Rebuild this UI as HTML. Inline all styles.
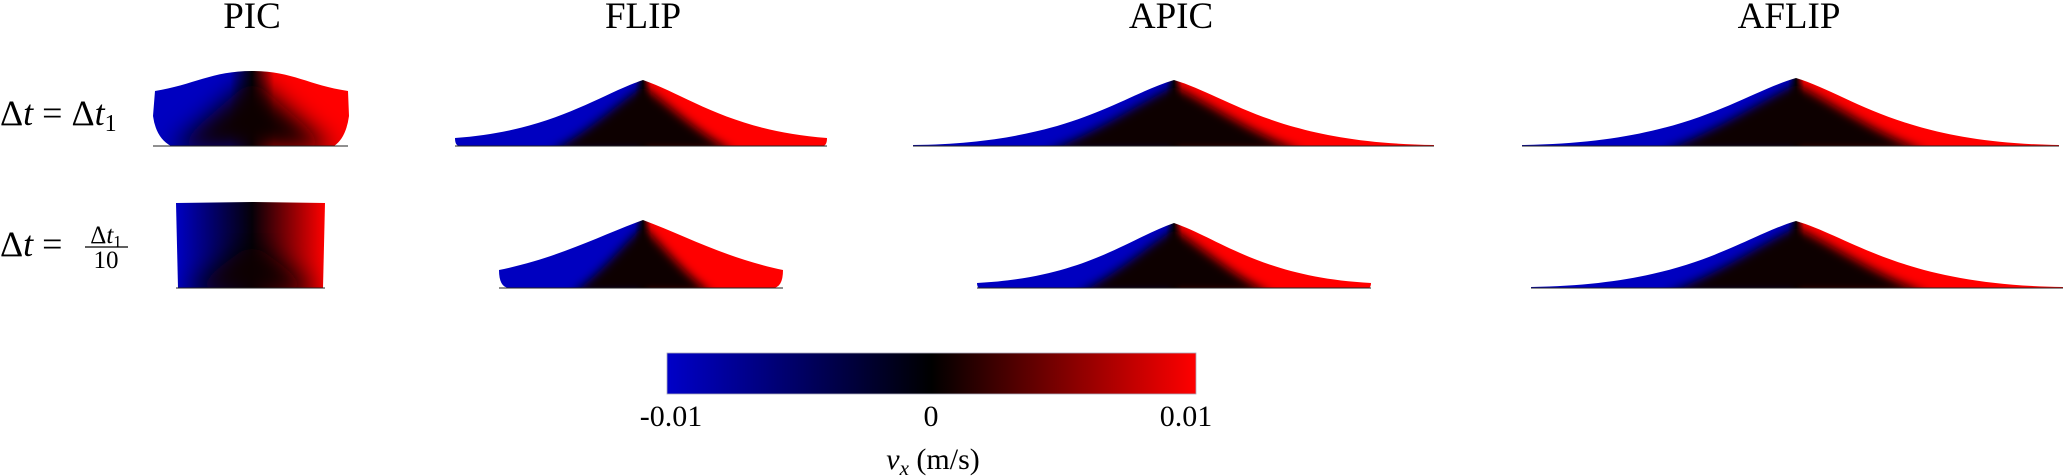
<!DOCTYPE html>
<html><head><meta charset="utf-8"><style>
html,body{margin:0;padding:0;background:#fff;}
svg{display:block;}
text{font-family:"Liberation Serif","DejaVu Serif",serif;fill:#000;}
</style></head><body>
<svg id="fig" width="2067" height="476" viewBox="0 0 2067 476" xmlns="http://www.w3.org/2000/svg">
<defs id="defsEl">
  <linearGradient id="cbarGrad" x1="0" x2="1" y1="0" y2="0">
    <stop offset="0" stop-color="#0000c8"/>
    <stop offset="0.5" stop-color="#000000"/>
    <stop offset="1" stop-color="#ff0000"/>
  </linearGradient>
  <filter id="blur" x="-20%" y="-20%" width="140%" height="140%"><feGaussianBlur stdDeviation="5"/></filter>
  <filter id="blur2" x="-20%" y="-20%" width="140%" height="140%"><feGaussianBlur stdDeviation="12"/></filter>
</defs>
<g>
  <text x="252" y="28" font-size="37" text-anchor="middle">PIC</text>
  <text x="643" y="28" font-size="37" text-anchor="middle">FLIP</text>
  <text x="1171" y="28" font-size="37" text-anchor="middle">APIC</text>
  <text x="1789" y="28" font-size="37" text-anchor="middle">AFLIP</text>
</g>
<g>
  <text x="0" y="125" font-size="36">Δ<tspan font-style="italic">t</tspan> = Δ<tspan font-style="italic">t</tspan><tspan font-size="24" dy="6">1</tspan></text>
  <g>
    <text x="0" y="256" font-size="36">Δ<tspan font-style="italic">t</tspan> =</text>
    <text x="106" y="243" font-size="25" text-anchor="middle">Δ<tspan font-style="italic">t</tspan><tspan font-size="17" dy="4">1</tspan></text>
    <line x1="85" x2="128" y1="247" y2="247" stroke="#000" stroke-width="1.3"/>
    <text x="106" y="268" font-size="25" text-anchor="middle">10</text>
  </g>
</g>
<g id="panelsG"></g>
<g id="cbarG">
  <rect x="667" y="353" width="529" height="41" fill="url(#cbarGrad)" stroke="#aab" stroke-width="0.8"/>
  <text x="671" y="426" font-size="30" text-anchor="middle">-0.01</text>
  <text x="931" y="426" font-size="30" text-anchor="middle">0</text>
  <text x="1186" y="426" font-size="30" text-anchor="middle">0.01</text>
  <text x="933" y="469" font-size="30" text-anchor="middle"><tspan font-style="italic">v</tspan><tspan font-style="italic" font-size="21" dy="6">x</tspan><tspan dy="-6"> (m/s)</tspan></text>
</g>
</svg>
<script>
// ---- data ----
const methods = ['PIC', 'FLIP', 'APIC', 'AFLIP'];
const rowNames = ['dt1', 'dt1-over-10'];
// spread (cm) left / right of centre, pile height (cm), edge height (cm)
const row1Left   = [-9.9, -18.8, -26.1, -27.4];
const row1Right  = [9.6, 18.4, 26.0, 26.3];
const row1Height = [7.5, 6.6, 6.6, 6.8];
const row1Edge   = [5.5, 0.8, 0.1, 0.1];
const row2Left   = [-7.6, -14.4, -19.7, -26.5];
const row2Right  = [7.3, 14.0, 19.7, 26.7];
const row2Height = [8.5, 6.8, 6.5, 6.7];
const row2Edge   = [8.5, 1.8, 0.5, 0.1];

const SVGNS = 'http://www.w3.org/2000/svg';
function mk(tag, attrs, parent) {
  const e = document.createElementNS(SVGNS, tag);
  for (const k in attrs) e.setAttribute(k, String(attrs[k]));
  parent.appendChild(e);
  return e;
}

const colCenter = [252, 643, 1174, 1796];
const rowBase = [146, 288];
const pxPerCm = 10;
function xScale(col, v) { return colCenter[col] + v * pxPerCm; }
function yScale(row, v) { return rowBase[row] - v * pxPerCm; }
const defsEl = document.getElementById('defsEl');
const panelsGroup = document.getElementById('panelsG');

function gradient(id, x0, x1, px, bw) {
  const g = mk('linearGradient', {id: id, gradientUnits: 'userSpaceOnUse', x1: x0, x2: x1, y1: 0, y2: 0}, defsEl);
  const f = v => Math.max(0, Math.min(1, (v - x0) / (x1 - x0)));
  mk('stop', {offset: f(px - bw), 'stop-color': '#0000c0'}, g);
  mk('stop', {offset: f(px), 'stop-color': '#050008'}, g);
  mk('stop', {offset: f(px + bw), 'stop-color': '#ff0000'}, g);
}

function r(v) { return Number(v).toFixed(1); }
function conePath(px, top, base, L, R, eL, eR, curv) {
  const hL = base - eL - top, hR = base - eR - top;
  const dL = px - L, dR = R - px;
  const lc1x = L + dL * (0.33 + 0.27 * curv), lc1y = (base - eL) - hL * (0.33 - 0.3 * curv);
  const lc2x = px - dL * (0.33 - 0.12 * curv), lc2y = top + hL * (0.33 - 0.08 * curv);
  const rc1x = px + dR * (0.33 - 0.12 * curv), rc1y = top + hR * (0.33 - 0.08 * curv);
  const rc2x = R - dR * (0.33 + 0.27 * curv), rc2y = (base - eR) - hR * (0.33 - 0.3 * curv);
  return 'M' + r(L + eL * 0.6) + ',' + r(base) + ' Q' + r(L) + ',' + r(base) + ' ' + r(L) + ',' + r(base - eL) +
    ' C' + r(lc1x) + ',' + r(lc1y) + ' ' + r(lc2x) + ',' + r(lc2y) + ' ' + r(px) + ',' + r(top) +
    ' C' + r(rc1x) + ',' + r(rc1y) + ' ' + r(rc2x) + ',' + r(rc2y) + ' ' + r(R) + ',' + r(base - eR) +
    ' Q' + r(R) + ',' + r(base) + ' ' + r(R - eR * 0.6) + ',' + r(base) + ' Z';
}

const curvature = [[0, 0.7, 1, 1], [0, 0.3, 0.8, 1]];
const rowsData = [
  {left: row1Left, right: row1Right, h: row1Height, e: row1Edge},
  {left: row2Left, right: row2Right, h: row2Height, e: row2Edge}
];

function drawPanel(ri, ci) {
  const rw = rowsData[ri];
  const m = methods[ci];
  const g = mk('g', {}, panelsGroup);
  
  
  const px = colCenter[ci];
  const L = xScale(ci, rw.left[ci]), R = xScale(ci, rw.right[ci]);
  const top = yScale(ri, rw.h[ci]), base = rowBase[ri];
  const id = 'grad' + ri + ci;
  const clipId = 'clip' + ri + ci;
  let d;
  if (m === 'PIC') {
    const side = yScale(ri, rw.e[ci]);
    if (ri === 0) {
      d = 'M' + r(L + 18) + ',' + r(base) + ' Q' + r(L + 3) + ',' + r(base - 8) + ' ' + r(L) + ',' + r(base - 30) +
          ' L' + r(L + 2) + ',' + r(side) +
          ' C' + r(L + 40) + ',' + r(side - 6) + ' ' + r(px - 40) + ',' + r(top) + ' ' + r(px) + ',' + r(top) +
          ' C' + r(px + 40) + ',' + r(top) + ' ' + r(R - 40) + ',' + r(side - 6) + ' ' + r(R) + ',' + r(side) +
          ' L' + r(R + 1) + ',' + r(base - 30) + ' Q' + r(R - 2) + ',' + r(base - 8) + ' ' + r(R - 14) + ',' + r(base) + ' Z';
    } else {
      d = 'M' + r(L + 2) + ',' + r(base) + ' L' + r(L) + ',' + r(top) + ' L' + r(px) + ',' + r(top - 1) +
          ' L' + r(R) + ',' + r(top) + ' L' + r(R - 2) + ',' + r(base) + ' Z';
    }
    gradient(id, L, R, px, ri === 0 ? 22 : (R - L) / 2);
  } else {
    const e = yScale(ri, 0) - yScale(ri, rw.e[ci]);
    d = conePath(px, top, base, L, R, e, e, curvature[ri][ci]);
    gradient(id, L, R, px, 8);
  }
  const cp = mk('clipPath', {id: clipId}, defsEl);
  mk('path', {d: d}, cp);
  const outer = mk('path', {d: d, fill: 'url(#' + id + ')'}, g);
  
  
  let inner;
  if (m === 'PIC') {
    const w = (R - L) * (ri === 0 ? 0.42 : 0.45);
    inner = 'M' + r(px - w) + ',' + r(base + 4) + ' L' + r(px) + ',' + r(top + (ri === 0 ? 8 : 40)) + ' L' + r(px + w) + ',' + r(base + 4) + ' Z';
  } else {
    inner = conePath(px, top + 6, base + 6, px - (px - L) * 0.5, px + (R - px) * 0.5, 0, 0, 0.2);
  }
  const ig = mk('g', {'clip-path': 'url(#' + clipId + ')'}, g);
  const ip = mk('path', {d: inner, fill: '#070006', filter: m === 'PIC' ? 'url(#blur2)' : 'url(#blur)'}, ig);
  
  
  const bl = mk('line', {x1: L, x2: R, y1: base, y2: base, stroke: '#222', 'stroke-width': 1}, g);
  
  
}

for (let ri = 0; ri < rowsData.length; ri++) {
  for (let ci = 0; ci < methods.length; ci++) {
    try { drawPanel(ri, ci); } catch (err) { console.log(err); }
  }
}
</script>
</body></html>
